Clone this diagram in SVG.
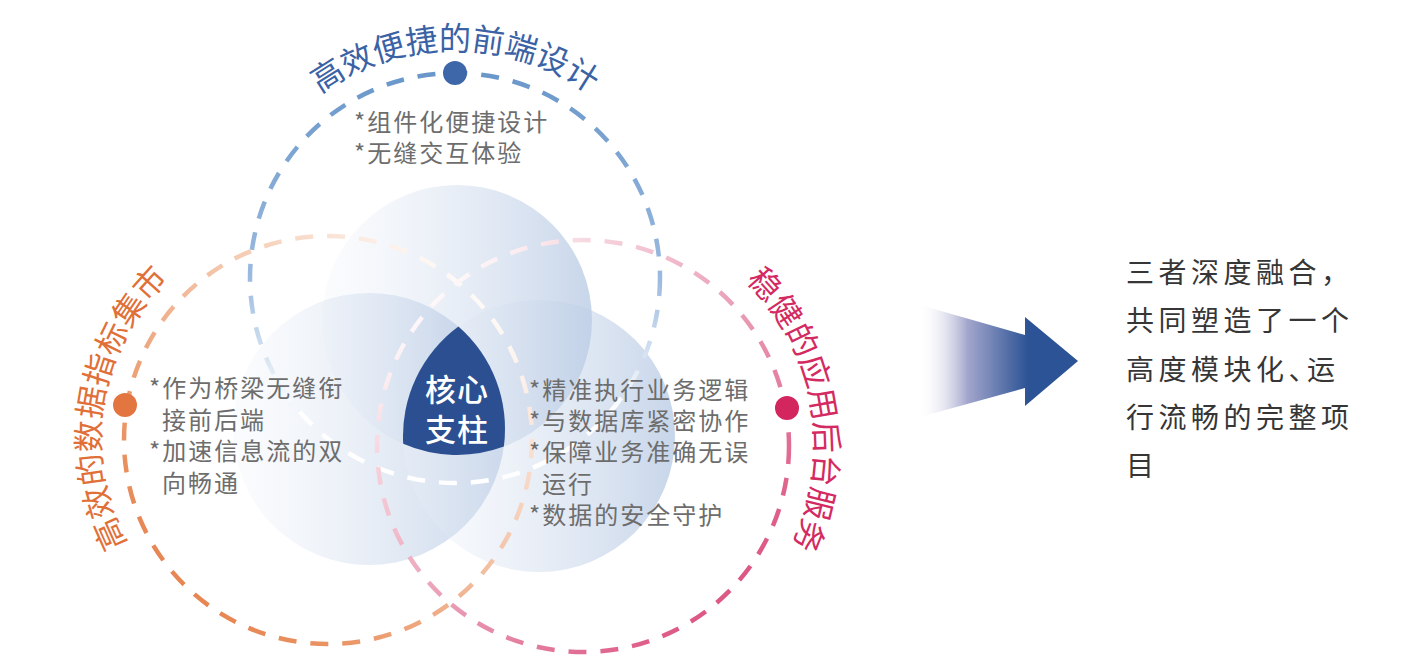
<svg xmlns="http://www.w3.org/2000/svg" width="1418" height="671" viewBox="0 0 1418 671">
<style>
text{font-family:"Noto Sans CJK SC","Noto Sans",sans-serif}
.ring{fill:none;stroke-width:4.5;stroke-dasharray:18 14}
.fillc{fill:url(#fillGrad)}
.title{font-size:32px;letter-spacing:0px}
.body{font-size:24px;letter-spacing:2px;fill:#6d6d6d}
.core{font-size:31px;letter-spacing:1px;fill:#ffffff;font-weight:500}
.main{font-size:28px;letter-spacing:4.5px;fill:#363636}
.halt{font-feature-settings:"halt"}
</style>
<defs>
<linearGradient id="fillGrad" x1="0" y1="0" x2="1" y2="0">
<stop offset="0" stop-color="#eef2f9" stop-opacity="0.25"/>
<stop offset="1" stop-color="#a6bddd" stop-opacity="0.62"/>
</linearGradient>
<linearGradient id="blueStroke" x1="0" y1="0" x2="0" y2="1">
<stop offset="0" stop-color="#6a97ca"/>
<stop offset="0.5" stop-color="#9bbadf"/>
<stop offset="0.82" stop-color="#ffffff"/>
<stop offset="1" stop-color="#ffffff"/>
</linearGradient>
<linearGradient id="orangeStroke" x1="0" y1="1" x2="1" y2="0">
<stop offset="0" stop-color="#e2733a"/>
<stop offset="0.3" stop-color="#eb9a6c"/>
<stop offset="0.72" stop-color="#f8dccb"/>
<stop offset="0.88" stop-color="#ffffff"/>
<stop offset="1" stop-color="#ffffff"/>
</linearGradient>
<linearGradient id="pinkStroke" x1="1" y1="1" x2="0" y2="0">
<stop offset="0" stop-color="#d83a6c"/>
<stop offset="0.3" stop-color="#e2789a"/>
<stop offset="0.72" stop-color="#f5d0da"/>
<stop offset="0.88" stop-color="#ffffff"/>
<stop offset="1" stop-color="#ffffff"/>
</linearGradient>
<linearGradient id="arrowGrad" gradientUnits="userSpaceOnUse" x1="918" y1="0" x2="1028" y2="0">
<stop offset="0" stop-color="#ffffff" stop-opacity="0"/>
<stop offset="0.45" stop-color="#a3a6cc"/>
<stop offset="1" stop-color="#2c5395"/>
</linearGradient>
<path id="pBlue" d="M 455 506 A 228 228 0 0 1 455 50 A 228 228 0 0 1 455 506"/>
<path id="pOrange" d="M 553.17 475.67 A 228 228 0 0 1 102.83 404.33 A 228 228 0 0 1 553.17 475.67"/>
<path id="pPink" d="M 354.52 486.29 A 232 232 0 0 1 811.48 405.71 A 232 232 0 0 1 354.52 486.29"/>
</defs>

<g id="venn-fills">
<circle class="fillc" cx="457" cy="320" r="135"/>
<circle class="fillc" cx="369" cy="429" r="136"/>
<circle class="fillc" cx="539" cy="436" r="136"/>
</g>

<g id="core">
<path d="M 458.4 326.5 A 136 136 0 0 1 503.85 446.6 A 135 135 0 0 1 403.2 443.8 A 136 136 0 0 1 458.4 326.5 Z" fill="#2b4f90"/>
<text class="core" x="457" y="401" text-anchor="middle">核心</text>
<text class="core" x="457" y="441" text-anchor="middle">支柱</text>
</g>

<g id="connectors">
<circle class="ring" cx="455" cy="278" r="205" stroke="url(#blueStroke)"/>
<circle class="ring" cx="328" cy="440" r="204" stroke="url(#orangeStroke)"/>
<circle class="ring" cx="583" cy="446" r="206" stroke="url(#pinkStroke)"/>
</g>

<g id="node-frontend">
<circle cx="455" cy="73" r="12" fill="#3e67a9"/>
<text class="title" fill="#3a62a5"><textPath href="#pBlue" startOffset="50%" text-anchor="middle">高效便捷的前端设计</textPath></text>
<text class="body" x="354" y="131">*组件化便捷设计</text>
<text class="body" x="354" y="162">*无缝交互体验</text>
</g>

<g id="node-data">
<circle cx="125" cy="405" r="12" fill="#e37540"/>
<text class="title" fill="#e07038"><textPath href="#pOrange" startOffset="50%" text-anchor="middle">高效的数据指标集市</textPath></text>
<text class="body" x="149" y="397">*作为桥梁无缝衔</text>
<text class="body" x="162" y="429">接前后端</text>
<text class="body" x="149" y="460">*加速信息流的双</text>
<text class="body" x="162" y="492">向畅通</text>
</g>

<g id="node-backend">
<circle cx="787" cy="408" r="12" fill="#d3255e"/>
<text class="title" fill="#d42a62"><textPath href="#pPink" startOffset="50%" text-anchor="middle">稳健的应用后台服务</textPath></text>
<text class="body" x="529" y="399">*精准执行业务逻辑</text>
<text class="body" x="529" y="430">*与数据库紧密协作</text>
<text class="body" x="529" y="461">*保障业务准确无误</text>
<text class="body" x="542" y="493">运行</text>
<text class="body" x="529" y="524">*数据的安全守护</text>
</g>

<g id="arrow">
<polygon points="920,305 1025,335 1025,317 1078,361 1025,406 1025,388 920,417" fill="url(#arrowGrad)"/>
</g>

<g id="node-result">
<text class="main" x="1126" y="283">三者深度融合，</text>
<text class="main" x="1126" y="331">共同塑造了一个</text>
<text class="main halt" x="1126" y="380">高度模块化、运</text>
<text class="main" x="1126" y="428">行流畅的完整项</text>
<text class="main" x="1126" y="476">目</text>
</g>
</svg>
